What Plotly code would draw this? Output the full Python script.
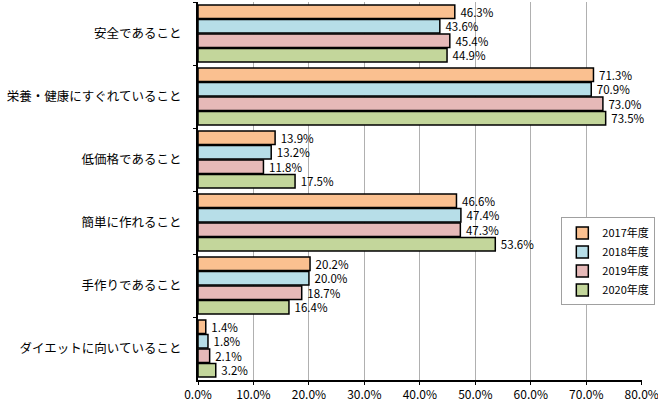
import plotly.graph_objects as go

categories = ["安全であること", "栄養・健康にすぐれていること", "低価格であること",
              "簡単に作れること", "手作りであること", "ダイエットに向いていること"]
years = ["2017年度", "2018年度", "2019年度", "2020年度"]
values = {
    "2017年度": [46.3, 71.3, 13.9, 46.6, 20.2, 1.4],
    "2018年度": [43.6, 70.9, 13.2, 47.4, 20.0, 1.8],
    "2019年度": [45.4, 73.0, 11.8, 47.3, 18.7, 2.1],
    "2020年度": [44.9, 73.5, 17.5, 53.6, 16.4, 3.2],
}
x_ticks = [0, 10, 20, 30, 40, 50, 60, 70, 80]
colors = ["#FAC090", "#B7DEE8", "#E6B9B8", "#C3D69B"]

font = "Noto Sans CJK JP"

fig = go.Figure()
for year, color in zip(years, colors):
    vals = values[year]
    fig.add_trace(go.Bar(
        y=categories, x=vals, name=year, orientation="h",
        marker=dict(color=color, line=dict(color="black", width=1.5)),
        text=[f" {v:.1f}%" for v in vals], textposition="outside",
        textfont=dict(size=11.5, color="black", family=font),
        constraintext="none", cliponaxis=False,
    ))

fig.update_layout(
    barmode="group", bargap=0.08, bargroupgap=0.06,
    width=658, height=401,
    margin=dict(l=198, r=16, t=2, b=21, autoexpand=False),
    plot_bgcolor="white", paper_bgcolor="white",
    font=dict(family=font, size=12, color="black"),
    legend=dict(x=1.03, y=0.43, xanchor="right", yanchor="top",
                bordercolor="#a0a0a0", borderwidth=1, bgcolor="white",
                font=dict(size=11), itemwidth=30, tracegroupgap=0),
)
fig.update_xaxes(range=[0, 80.05], tickvals=x_ticks,
                 ticktext=[f"{t:.1f}%" for t in x_ticks],
                 showgrid=True, gridcolor="#b0b0b0", gridwidth=1,
                 showline=True, linecolor="black", linewidth=2,
                 ticks="outside", ticklen=3, tickcolor="black",
                 tickfont=dict(size=12), ticklabeloverflow="allow", zeroline=False)
fig.update_yaxes(autorange="reversed", showline=True, linecolor="black", linewidth=2,
                 ticks="outside", ticklen=3, tickcolor="black", tickson="boundaries",
                 tickfont=dict(size=12.5), ticklabelstandoff=12)

# drop the default page margin so the figure sits at the window's corner
fig.write_html("out.html", config={"displayModeBar": False},
               post_script="document.body.style.margin='0';")
